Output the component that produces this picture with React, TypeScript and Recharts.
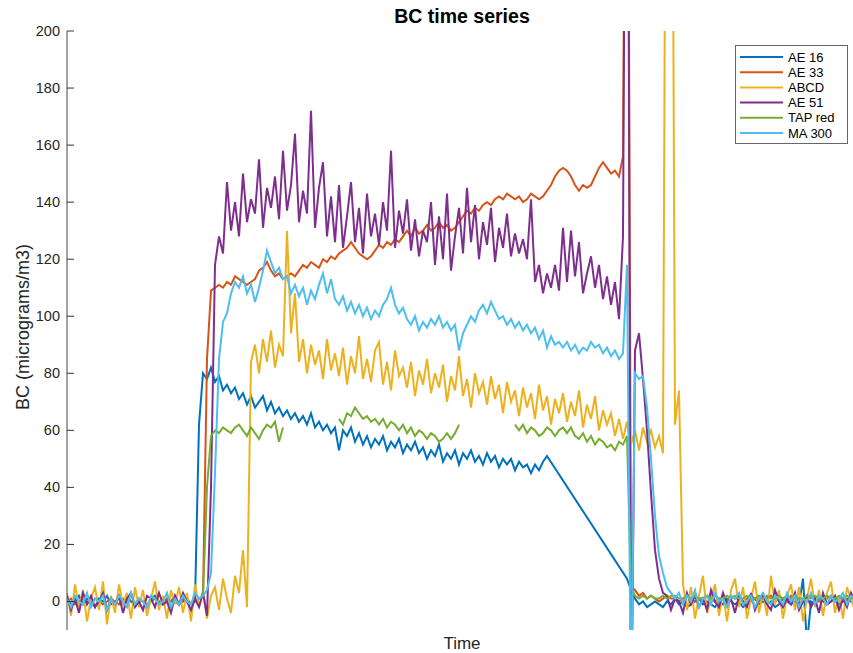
import React from 'react';
import { LineChart, Line, XAxis, YAxis } from 'recharts';

// time index (one sample per step), values in micrograms/m3
const T_MAX = 197.25;
const Y_TICKS = [0, 20, 40, 60, 80, 100, 120, 140, 160, 180, 200];

const ae16Base = [1,-1,0,2,-1,1,0,-2,1,0, 2,-1,0,1,-1,2,0,-1,1,0, -2,1,2,0,-1,1,0,2,-1,0, 1,-1,0];
const ae16Main = [62,80,78,82,77,79,74,76,73,75, 71,73,69,72,68,70,72,67,70,66, 68,65,67,64,66,63,65,62,66,61,
  63,60,62,59,61,53,60,58,61,56, 59,55,58,54,57,55,58,53,56,54, 57,52,55,53,56,52,54,50,53,51,
  55,49,52,50,53,48,52,50,53,49, 51,48,52,49,51,47,50,48,50,46, 49,47,48,45,48,46,49,51];
const ae16Tail = [8,4,1, -1,0,-2,-1,0,-1,-2,0,-1,1, -1,0,-2,-1,0,1,-1,0,-1,-2, 0,-1,1,0,-1,0,-2,-1,0,1,
  -1,0,-1,0,-2,-1,1,0,-1,0, -1, 8,-15, 0,-1,1,0,-1,0,1,-1,0,1,0,-1];

const ae33Base = [0,1,-1,0,1,0,-1,1,0,-1, 0,1,0,-1,1,0,0,-1,1,0, -1,0,1,0,-1,1,0,0,-1,1, 0,-1,0,1];
const ae33Main = [2,85,109,110,111,110,112,111,114,113, 112,111,112,113,116,117,119,116,114,115,
  113,114,115,114,116,118,117,119,118,117, 120,119,121,120,122,123,124,126,124,122,
  121,120,121,123,125,124,126,125,127,126, 128,130,128,131,129,130,132,130,131,133,
  131,132,130,131,133,135,137,136,138,137, 139,140,139,141,142,141,143,142,141,142,
  140,141,143,142,141,142,144,146,149,151, 152,151,149,146,144,146,145,146,149,152,
  154,152,150,151,149,156,400,5,4,2,3];
const ae33Tail = [1,2,1,0,1,2,1,1,0,1, 2,1,0,1,1,2,1,0,1,1, 0,2,1,1,0,1,2,1,0,1, 1,2,0,1,1,0,2,1,1,0,
  1,2,1,0,1,1,2,0,1,1, 0,1,2];

const abcdBase = [3,-5,6,-2,4,-7,1,5,-3,7, -8,2,-4,6,-1,3,-6,5,-2,4, -5,1,7,-3,2,-6,4,-1,5,-4,
  3,-7,6,-2,4,-6,2,5,-3,8, 1,-4,9,3,18,-2];
const abcdMain = [84,90,80,92,84,95,82,90,86,130, 94,108,84,92,80,90,83,88,78,92,
  81,87,79,89,76,86,80,93,78,85, 77,88,91,76,84,74,88,79,82,75, 84,72,81,76,85,73,80,75,83,70,
  79,74,86,72,78,68,80,73,77,69, 79,71,76,66,77,70,74,65,75,68, 73,64,76,67,72,62,71,66,73,63,
  70,65,74,61,69,64,72,60,67,62, 66,58,64,57,63,55,60,53,61,56, 60,54,58,52,400,400,62,74,6];
const abcdTail = [-3,5,-6,2,9,-4,1,6,-5,3, -7,4,8,-2,5,-6,1,7,-4,3, -5,9,-1,4,-6,2,6,-3,5,-7,
  1,8,-2,4,-5,3,7,-4,2,-6, 5,1,-3];

const ae51Base = [2,-3,1,-4,3,-1,2,-2,0,3, -3,1,-1,2,-4,1,3,-2,0,-3, 2,1,-2,3,-1,0,-4,2,-1,3, 0,-3,1,-2,3,-5];
const ae51Main = [40,118,128,122,147,130,140,128,150,133, 141,136,155,131,145,138,149,134,158,137,
  146,164,133,144,136,172,131,145,154,128, 142,126,146,124,135,147,126,138,122,143,
  128,136,125,140,130,158,124,137,129,141, 123,134,121,130,126,140,118,135,120,143,
  116,128,138,122,145,126,139,120,133,125, 138,119,131,124,136,121,129,122,127,120,
  141,112,118,108,115,110,118,109,131,112, 130,114,126,108,115,121,110,118,106,114,
  104,112,99,128,400,-60,88,94,78,60, 38,18,8,3];
const ae51Tail = [2,-3,1,0,-4,3,-1,2,-2,1, -3,4,0,-2,3,-1,1,-4,2,0, -2,3,-3,1,2,-1,-3,4,0,-2,
  1,-1,3,-3,0,2,-2,1,-4,3, -1,0,2,-3,1,-2,3,0];

const tapA = [1,2,40,58,60,59,61,60,59,61, 62,60,58,61,59,57,60,62,61,63, 56,61];
const tapB = [64,62,66,65,68,66,64,65,63,64, 62,64,61,63,62,60,62,59,61,58, 60,59,57,59,58,56,57,59,57,59, 62];
const tapC = [62,60,62,59,61,60,58,59,61,60, 58,60,61,59,61,58,57,59,56,58, 55,57,56,54,55,53,56,55,58,5,
  2,1,2,1,2,1,1,2,1,2, 2,1,1,2,1,2,1,1,2,1, 2,1,1,2,1,2,1,1,2,1, 1,2,1,2,1,1,2,1,2,1,
  2,1,1,2,1,2,1,1,2,1, 1,2,1,2,1,1];

const maBase = [1,-2,2,0,-1,3,-2,1,0,2, -3,1,-1,2,0,-2,3,-1,1,0, -2,2,1,-1,0,3,-2,1,-1,2, 0,-1,3,1,2,4];
const maMain = [10,45,85,98,101,108,112,110,114,108, 111,105,110,116,123,119,115,117,113,114,
  108,111,107,110,104,109,106,111,115,108, 113,106,104,107,102,105,101,104,100,103,
  99,102,100,104,106,110,104,101,103,99, 97,100,95,98,96,99,97,100,96,98,
  95,97,88,94,97,100,98,102,104,101, 105,102,99,100,97,99,96,98,95,97,
  94,96,92,95,89,93,90,91,89,91, 88,90,87,89,88,91,89,90,87,89,
  86,88,85,87,118,-40,80,78,79,68, 50,30,16,10,5,3];
const maTail = [1,3,-1,2,0,4,-2,1,2,-1, 3,0,1,-2,2,1,3,-1,0,2, -2,1,3,0,-1,2,1,-1,3,0,
  2,-2,1,0,3,-1,2,1,-1,2, 0,1,3,-1,2,1];

type Seg = [number, number[]];
type Pt = { t: number; v: number | null };

function build(segs: Seg[], breakGaps: boolean): Pt[] {
  const out: Pt[] = [];
  let last = -1;
  segs.forEach(([start, vals]) => {
    if (breakGaps && last >= 0 && start > last + 1) out.push({ t: last + 1, v: null });
    vals.forEach((v, k) => out.push({ t: start + k, v }));
    last = start + vals.length - 1;
  });
  return out;
}

const SERIES = [
  { name: 'AE 16', color: '#0072BD', data: build([[0, ae16Base], [33, ae16Main], [140, ae16Tail]], false) },
  { name: 'AE 33', color: '#D95319', data: build([[0, ae33Base], [34, ae33Main], [145, ae33Tail]], true) },
  { name: 'ABCD', color: '#EDB120', data: build([[0, abcdBase], [46, abcdMain], [155, abcdTail]], true) },
  { name: 'AE 51', color: '#7E2F8E', data: build([[0, ae51Base], [36, ae51Main], [150, ae51Tail]], true) },
  { name: 'TAP red', color: '#77AC30', data: build([[33, tapA], [68, tapB], [112, tapC]], true) },
  { name: 'MA 300', color: '#4DBEEE', data: build([[0, maBase], [36, maMain], [152, maTail]], true) },
];

const FONT = '"Liberation Sans", Arial, Helvetica, sans-serif';

const LeftTick = (props: any) => {
  const { x, y, payload } = props;
  return (
    <g>
      <line x1={x + 7} x2={x + 14} y1={y} y2={y} stroke="#333" strokeWidth={1} />
      <text x={x} y={y} dy={5} textAnchor="end" fill="#262626" fontSize={14.5} fontFamily={FONT}>{payload.value}</text>
    </g>
  );
};

const RightTick = (props: any) => {
  const { x, y } = props;
  return <line x1={x - 7} x2={x} y1={y} y2={y} stroke="#333" strokeWidth={1} />;
};

export default function App() {
  return (
    <div style={{ position: 'absolute', left: 0, top: 0, width: 853, height: 653, overflow: 'hidden', background: '#fff' }}>
      <LineChart width={860} height={653} margin={{ top: 31, right: 4, bottom: 23, left: 0 }}>
        <XAxis xAxisId="b" type="number" dataKey="t" domain={[0, T_MAX]} allowDataOverflow height={0}
          tick={false} tickLine={false} axisLine={{ stroke: '#999', strokeWidth: 1 }} />
        <XAxis xAxisId="t" orientation="top" type="number" dataKey="t" domain={[0, T_MAX]} allowDataOverflow height={0}
          tick={false} tickLine={false} axisLine={{ stroke: '#666', strokeWidth: 1 }} />
        <YAxis yAxisId="l" domain={[-10, 200]} ticks={Y_TICKS} allowDataOverflow width={67} interval={0}
          tickSize={0} tickMargin={7} axisLine={{ stroke: '#444' }} tickLine={false} tick={<LeftTick />} />
        <YAxis yAxisId="r" orientation="right" domain={[-10, 200]} ticks={Y_TICKS} allowDataOverflow width={0} interval={0}
          tickSize={0} tickMargin={0} tickLine={false} tick={<RightTick />} axisLine={{ stroke: '#444' }} />
        {SERIES.map((s) => (
          <Line key={s.name} xAxisId="b" yAxisId="l" data={s.data} dataKey="v" type="linear"
            stroke={s.color} strokeWidth={2} dot={false} activeDot={false}
            connectNulls={s.name === 'AE 16'} isAnimationActive={false} />
        ))}
      </LineChart>
      <svg width={853} height={653} style={{ position: 'absolute', left: 0, top: 0, pointerEvents: 'none' }}>
        <text x={462} y={23} textAnchor="middle" fontFamily={FONT} fontWeight="bold" fontSize={19.5} fill="#000">BC time series</text>
        <text x={462} y={649} textAnchor="middle" fontFamily={FONT} fontSize={17} fill="#262626">Time</text>
        <text x={0} y={0} transform="translate(29,327) rotate(-90)" textAnchor="middle" fontFamily={FONT} fontSize={18} fill="#262626">BC (micrograms/m3)</text>
        <rect x={735.5} y={45.5} width={112} height={98} fill="#fff" stroke="#666" strokeWidth={1} />
        {SERIES.map((s, k) => {
          const cy = 57 + k * 15.2;
          return (
            <g key={s.name}>
              <line x1={740} x2={783} y1={cy} y2={cy} stroke={s.color} strokeWidth={2} />
              <text x={788} y={cy + 4.5} fontFamily={FONT} fontSize={13} fill="#000">{s.name}</text>
            </g>
          );
        })}
      </svg>
    </div>
  );
}
